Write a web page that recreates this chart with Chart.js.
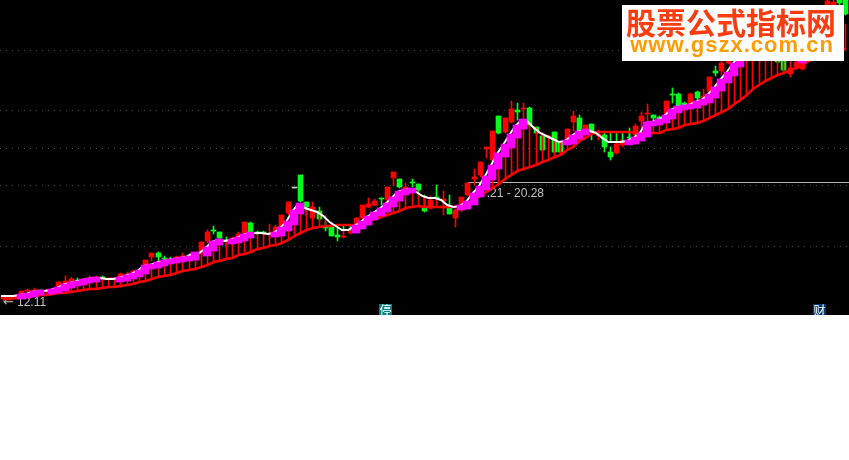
<!DOCTYPE html>
<html>
<head>
<meta charset="utf-8">
<title>K-line</title>
<script src="https://cdn.jsdelivr.net/npm/chart.js@4"></script>
<style>
  html, body { margin: 0; padding: 0; background: #fff; }
  canvas { display: block; }
</style>
</head>
<body>
<canvas id="kline" width="849" height="460"></canvas>
<script>
// values, in chart units (scale runs 0..315)
const opens = [16,16,18,20,24,24,25,24,25,29,30,33,35,33,36,37,38,36,36,37,40,41,44,45,58,62,57,56,57,57,59,58,62,74,85,83,75,75,78,82,92,83,83,81,82,88,102,127,140,113,97,104,89,89,80,78,82,90,97,108,110,117,115,137,136,126,133,131,107,107,118,114,108,97,105,120,136,140,166,155,199,183,193,205,206,207,188,179,178,183,172,172,193,197,185,191,179,180,163,162,170,178,180,194,201,200,198,199,221,221,212,211,223,217,223,244,244,252,257,279,269,281,271,279,271,267,263,241,247,246,257,267,279,310,310,315,315];
const closes = [19,18,19,24,25,25,24,25,26,33,34,36,34,34,37,38,36,37,37,41,41,44,45,55,62,58,56,55,58,59,59,62,73,83,84,77,74,77,81,93,82,82,82,82,88,100,113,127,114,108,108,96,87,79,78,79,85,97,110,111,114,116,128,143,128,128,132,125,104,115,117,116,101,105,118,132,138,153,168,184,182,197,206,203,207,190,182,165,179,163,163,186,199,184,190,183,181,168,158,171,175,177,189,199,202,197,195,214,220,208,208,221,217,219,238,242,252,265,275,265,279,267,283,265,259,253,245,247,253,257,269,279,291,314,313,312,301];
const highs = [20,19,20,24,26,27,25,25,26,33,39,38,37,35,39,39,39,37,37,42,43,45,47,55,62,63,59,58,59,62,61,62,73,85,89,83,78,78,83,93,93,84,84,91,90,100,113,127,140,113,113,108,93,89,87,85,86,97,110,117,116,117,128,143,136,132,136,131,120,119,130,124,120,106,118,132,146,153,168,184,199,197,214,212,212,208,188,180,180,183,173,186,204,200,190,191,185,180,168,172,176,187,191,203,211,200,199,214,227,222,213,222,224,226,238,249,254,267,277,280,280,282,285,280,272,268,265,249,255,258,270,281,293,315,315,315,315];
const lows = [15,15,17,19,23,23,24,24,24,28,29,32,33,32,34,36,35,36,36,36,39,40,42,44,54,53,53,53,56,56,57,57,61,72,81,75,68,70,77,81,81,80,81,77,81,87,100,127,113,100,96,95,84,79,74,77,81,89,96,107,109,110,113,129,127,122,128,120,103,106,116,100,101,88,103,119,130,138,157,154,181,182,192,195,195,188,181,164,177,162,162,171,184,183,183,175,175,163,155,161,168,176,179,187,194,192,194,198,212,207,207,210,212,215,222,239,240,251,255,263,267,265,269,263,257,252,244,238,246,245,256,266,278,309,309,307,300];
const trend = [19,19,19,20,21,23,24,24,25,27,30,32,33,35,36,37,37,36,36,37,39,41,44,49,50,52,54,55,56,57,58,62,62,67,73,75,74,75,77,80,82,82,82,81,82,87,93,104,111,107,105,103,99,93,89,85,85,89,93,98,102,106,111,117,123,125,126,123,119,117,117,115,110,108,109,113,121,128,138,149,161,170,180,189,195,193,187,182,179,176,173,174,179,183,185,184,182,177,173,173,173,174,177,181,192,193,195,199,205,208,209,210,213,215,220,227,235,242,251,258,263,267,269,269,267,263,259,256,255,261,267,273,279,285,289,291,291];
const support = [16,16,17,17,18,19,20,20,21,22,22,23,24,25,26,26,27,28,28,29,30,31,33,34,36,38,39,40,42,44,45,46,48,50,53,54,56,57,60,61,63,66,67,69,70,72,75,79,82,85,87,88,89,89,90,90,90,89,92,94,96,98,100,102,104,107,108,109,108,108,108,108,108,108,109,110,116,119,123,127,131,136,140,144,146,148,150,153,155,158,160,165,168,174,177,181,183,183,183,183,183,183,182,182,182,182,182,185,186,187,190,191,192,194,197,200,203,206,211,215,220,226,230,234,237,240,242,245,247,250,254,257,259,261,263,265,266];
const gridLevels = [265, 204, 167, 130, 69];
const priceLevel = 133;
const rangeLabel = ".21 - 20.28";
const lowLabel = "12.11";

const days = trend.map((_, i) => i);
const RED = "#ff0000", GREEN = "#00ff1e", PINK = "#ff00ff";

const candleColors = opens.map((o, i) => o === closes[i] ? "#c8c8c8" : (closes[i] > o ? RED : GREEN));
const stickColors = trend.map((t, i) => t < support[i] ? GREEN : RED);
const pinkBars = trend.map((t, i) => (i > 0 && t > trend[i - 1]) ? [trend[i - 1] - 3, t + 1] : null);

// bars snap to whole pixels, the reference has no soft edges.
// the white line sits a little left of the pink blocks so it peeks out at their corners
const snapBars = {
  id: "snapBars",
  afterDatasetsUpdate(chart) {
    chart.data.datasets.forEach((ds, n) => {
      const meta = chart.getDatasetMeta(n);
      if (ds.type === "line") {
        if (ds.label === "trend") meta.data.forEach(el => { el.x -= 2; });
        return;
      }
      meta.data.forEach(el => {
        el.x = Math.floor(el.x) + (el.width % 2 ? 0.5 : 0);
        el.y = Math.round(el.y);
        el.base = Math.round(el.base);
      });
    });
  }
};

const decorations = {
  id: "decorations",
  beforeDraw(chart) {
    const { ctx, chartArea: a } = chart;
    ctx.fillStyle = "#000";
    ctx.fillRect(a.left, a.top, a.right - a.left, a.bottom - a.top);
  },
  beforeDatasetsDraw(chart) {
    const { ctx, chartArea: a, scales } = chart;
    const y = Math.round(scales.y.getPixelForValue(priceLevel)) + 0.5;
    ctx.save();
    ctx.strokeStyle = "#b4b4b4";
    ctx.lineWidth = 1;
    ctx.beginPath();
    ctx.moveTo(scales.x.getPixelForValue(75), y);
    ctx.lineTo(a.right, y);
    ctx.stroke();
    ctx.fillStyle = "#c0c0c0";
    ctx.font = "12px 'Liberation Sans'";
    ctx.textAlign = "right";
    ctx.fillText(rangeLabel, 544, 197);
    ctx.textAlign = "left";
    ctx.fillText(lowLabel, 17, 306);
    ctx.font = "13px 'DejaVu Sans'";
    ctx.fillText("\u2190", 3, 306);
    ctx.restore();
  },
  afterDraw(chart) {
    const { ctx, chartArea: a } = chart;
    ctx.save();
    // the two event badges are cut by the bottom of the black panel
    ctx.beginPath();
    ctx.rect(a.left, a.top, a.right - a.left, a.bottom - a.top);
    ctx.clip();
    ctx.fillStyle = "#008080";
    ctx.fillRect(379, 304, 13, 11);
    ctx.fillStyle = "#003c78";
    ctx.fillRect(813, 304, 13, 11);
    ctx.fillStyle = "#fff";
    ctx.font = "12px 'Noto Sans CJK SC'";
    ctx.textAlign = "center";
    ctx.fillText("\u505c", 385.5, 315);
    ctx.fillText("\u8d22", 819.5, 315);
    ctx.restore();

    // watermark box
    ctx.save();
    ctx.fillStyle = "#fff";
    ctx.fillRect(622, 5, 222, 56);
    ctx.textAlign = "center";
    ctx.fillStyle = "#ff3c0f";
    ctx.font = "bold 30px 'Noto Sans CJK SC'";
    ctx.fillText("\u80a1\u7968\u516c\u5f0f\u6307\u6807\u7f51", 731, 34);
    ctx.fillStyle = "#ff9c00";
    ctx.font = "bold 22px 'Liberation Sans'";
    ctx.letterSpacing = "1px";
    ctx.fillText("www.gszx.com.cn", 732, 52);
    ctx.restore();
  }
};

new Chart(document.getElementById("kline"), {
  type: "bar",
  data: {
    labels: days,
    datasets: [
      { data: pinkBars, backgroundColor: PINK, barThickness: 8, grouped: false, order: 1 },
      { type: "line", label: "trend", data: trend, borderColor: "#fff", borderWidth: 2, pointRadius: 0, order: 2 },
      { type: "line", data: support, borderColor: RED, borderWidth: 2.5, pointRadius: 0, order: 3 },
      { data: support.map((s, i) => [s, trend[i]]), backgroundColor: stickColors, barThickness: 1, grouped: false, order: 4 },
      { data: opens.map((o, i) => [o, closes[i]]), backgroundColor: candleColors, barThickness: 5, minBarLength: 1, grouped: false, order: 5 },
      { data: lows.map((l, i) => [l, highs[i]]), backgroundColor: candleColors, barThickness: 1, grouped: false, order: 6 }
    ]
  },
  options: {
    responsive: false,
    animation: false,
    events: [],
    layout: { padding: { bottom: 145 } },
    plugins: { legend: { display: false }, tooltip: { enabled: false } },
    scales: {
      x: { display: false, offset: true },
      y: {
        min: 0,
        max: 315,
        ticks: { display: false },
        afterBuildTicks: axis => { axis.ticks = gridLevels.map(v => ({ value: v })); },
        border: { display: false, dash: [1, 5] },
        grid: { color: "#484848", drawTicks: false }
      }
    }
  },
  plugins: [snapBars, decorations]
});
</script>
</body>
</html>
